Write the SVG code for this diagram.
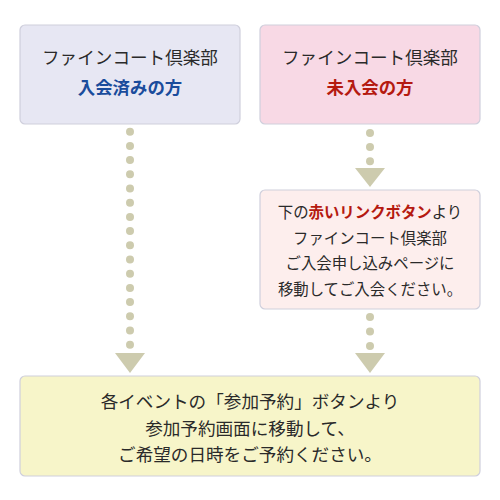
<svg xmlns="http://www.w3.org/2000/svg" width="500" height="500" viewBox="0 0 500 500">
<defs>
<style>
.box{stroke:#cfcfdc;stroke-width:1.2}
.t{font-family:"Noto Sans CJK JP","Noto Sans",sans-serif;fill:#2a2a2a;text-anchor:middle}
.dot{fill:#cdcbae}
</style>
</defs>
<rect width="500" height="500" fill="#fff"/>
<g id="connectors" class="dot">
<g id="c1">
<circle cx="130" cy="131.7" r="4"/><circle cx="130" cy="145.9" r="4"/><circle cx="130" cy="160.1" r="4"/><circle cx="130" cy="174.3" r="4"/>
<circle cx="130" cy="188.5" r="4"/><circle cx="130" cy="202.7" r="4"/><circle cx="130" cy="216.9" r="4"/><circle cx="130" cy="231.1" r="4"/>
<circle cx="130" cy="245.3" r="4"/><circle cx="130" cy="259.5" r="4"/><circle cx="130" cy="273.7" r="4"/><circle cx="130" cy="287.9" r="4"/>
<circle cx="130" cy="302.1" r="4"/><circle cx="130" cy="316.3" r="4"/><circle cx="130" cy="330.5" r="4"/><circle cx="130" cy="344.7" r="4"/>
<polygon points="115,353 145,353 130,373"/>
</g>
<g id="c2">
<circle cx="370" cy="133" r="4"/><circle cx="370" cy="147" r="4"/><circle cx="370" cy="161.3" r="4"/>
<polygon points="355,168 385,168 370,187"/>
</g>
<g id="c3">
<circle cx="370" cy="317" r="4"/><circle cx="370" cy="331.5" r="4"/><circle cx="370" cy="346" r="4"/>
<polygon points="355,353 385,353 370,373"/>
</g>
</g>
<g id="member">
<rect class="box" x="20" y="25" width="220" height="99" rx="5" fill="#e7e7f3"/>
<text class="t" x="130" y="64" font-size="17.6">ファインコート倶楽部</text>
<text class="t" x="130" y="94" font-size="17.4" font-weight="bold" style="fill:#1a4c9c">入会済みの方</text>
</g>
<g id="nonmember">
<rect class="box" x="260" y="25" width="220" height="99" rx="5" fill="#f8d9e5"/>
<text class="t" x="370" y="64" font-size="17.6">ファインコート倶楽部</text>
<text class="t" x="370" y="94" font-size="17.4" font-weight="bold" style="fill:#b51a10">未入会の方</text>
</g>
<g id="signup">
<rect class="box" x="260" y="190" width="220" height="119" rx="5" fill="#fdeeed"/>
<text class="t" x="370" y="218" font-size="15.4">下の<tspan font-weight="bold" style="fill:#b51a10">赤いリンクボタン</tspan>より</text>
<text class="t" x="370" y="243.5" font-size="15.4">ファインコート倶楽部</text>
<text class="t" x="370" y="269" font-size="15.4">ご入会申し込みページに</text>
<text class="t" x="370" y="294.5" font-size="15.4">移動してご入会ください。</text>
</g>
<g id="reserve">
<rect class="box" x="20" y="376" width="460" height="100" rx="5" fill="#f7f5c9"/>
<text class="t" x="250" y="408" font-size="17.6">各イベントの「参加予約」ボタンより</text>
<text class="t" x="250" y="434.5" font-size="17.6">参加予約画面に移動して、</text>
<text class="t" x="250" y="461" font-size="17.6">ご希望の日時をご予約ください。</text>
</g>
</svg>
